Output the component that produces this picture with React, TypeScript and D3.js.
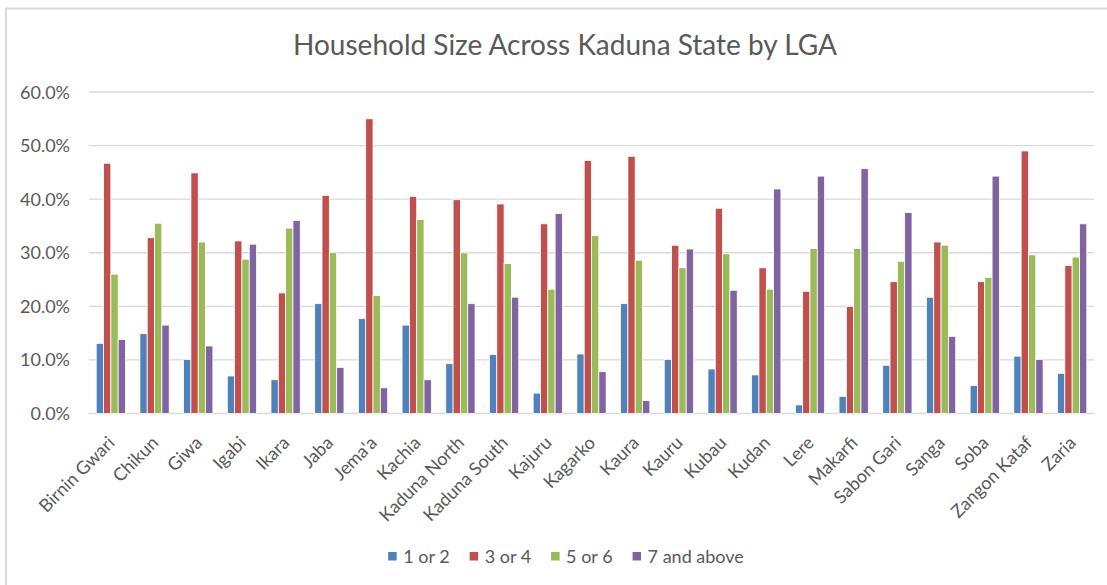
import { useEffect, useRef } from "react";
import * as d3 from "d3";

const lgas = [
  "Birnin Gwari", "Chikun", "Giwa", "Igabi", "Ikara", "Jaba", "Jema'a", "Kachia",
  "Kaduna North", "Kaduna South", "Kajuru", "Kagarko", "Kaura", "Kauru", "Kubau",
  "Kudan", "Lere", "Makarfi", "Sabon Gari", "Sanga", "Soba", "Zangon Kataf", "Zaria",
];

const seriesNames = ["1 or 2", "3 or 4", "5 or 6", "7 and above"];

const oneOrTwo = [13.1, 14.9, 10.1, 7.0, 6.3, 20.5, 17.7, 16.5, 9.3, 11.0, 3.8, 11.1, 20.5, 10.1, 8.3, 7.2, 1.6, 3.2, 9.0, 21.7, 5.2, 10.7, 7.5];
const threeOrFour = [46.7, 32.8, 44.9, 32.2, 22.5, 40.7, 55.0, 40.5, 39.9, 39.1, 35.4, 47.2, 48.0, 31.4, 38.3, 27.2, 22.8, 20.0, 24.6, 32.0, 24.6, 49.0, 27.6];
const fiveOrSix = [26.0, 35.5, 32.0, 28.8, 34.6, 30.0, 22.0, 36.2, 30.0, 28.0, 23.2, 33.2, 28.6, 27.2, 29.8, 23.2, 30.8, 30.8, 28.4, 31.4, 25.4, 29.6, 29.2];
const sevenPlus = [13.8, 16.5, 12.6, 31.6, 36.0, 8.6, 4.8, 6.3, 20.5, 21.7, 37.3, 7.8, 2.4, 30.7, 23.0, 41.9, 44.3, 45.7, 37.5, 14.4, 44.3, 10.1, 35.4];

const yTicks = [0, 10, 20, 30, 40, 50, 60];
const colors = ["#4f81bd", "#c0504d", "#9bbb59", "#8064a2"];

const W = 1107;
const H = 585;
const font = "Lato, 'Open Sans', sans-serif";
const textColor = "#595959";

const App = () => {
  const svgRef = useRef<SVGSVGElement>(null);

  useEffect(() => {
    const svg = d3.select(svgRef.current);
    svg.selectAll("*").remove();

    const series = [oneOrTwo, threeOrFour, fiveOrSix, sevenPlus];
    const left = 89;
    const right = 1094;
    const top = 92;
    const bottom = 413.5;

    // chart frame (only top and left edges fall inside the picture)
    svg.append("rect")
      .attr("x", 6).attr("y", 8.5)
      .attr("width", W + 20).attr("height", H + 20)
      .attr("fill", "#fff")
      .attr("stroke", "#d9d9d9").attr("stroke-width", 2);

    svg.append("text")
      .attr("x", 565).attr("y", 55)
      .attr("text-anchor", "middle")
      .attr("font-family", font).attr("font-size", 28)
      .attr("fill", textColor)
      .text("Household Size Across Kaduna State by LGA");

    const x = d3.scaleBand().domain(lgas).range([left, right]).paddingInner(0.33).paddingOuter(0.165);
    const xs = d3.scaleBand().domain(seriesNames).range([0, x.bandwidth()]);
    const y = d3.scaleLinear().domain([0, 60]).range([bottom, top]);

    // gridlines + y labels
    yTicks.forEach((t) => {
      svg.append("line")
        .attr("x1", left).attr("x2", right)
        .attr("y1", y(t)).attr("y2", y(t))
        .attr("stroke", "#d9d9d9").attr("stroke-width", 1.3);
      svg.append("text")
        .attr("x", 70).attr("y", y(t) + 6.5)
        .attr("text-anchor", "end")
        .attr("font-family", font).attr("font-size", 18)
        .attr("fill", textColor)
        .text(t.toFixed(1) + "%");
    });

    // bars
    series.forEach((vals, si) => {
      svg.append("g")
        .selectAll("rect")
        .data(vals)
        .join("rect")
        .attr("x", (_, i) => (x(lgas[i]) ?? 0) + (xs(seriesNames[si]) ?? 0))
        .attr("y", (d) => y(d))
        .attr("width", xs.bandwidth())
        .attr("height", (d) => y(0) - y(d))
        .attr("fill", colors[si])
        .attr("stroke", "#fff")
        .attr("stroke-width", 0.8);
    });

    // category labels
    lgas.forEach((name) => {
      const cx = (x(name) ?? 0) + x.bandwidth() / 2;
      svg.append("text")
        .attr("transform", `translate(${cx + 5},${444}) rotate(-45)`)
        .attr("text-anchor", "end")
        .attr("font-family", font).attr("font-size", 18)
        .attr("fill", textColor)
        .text(name);
    });

    // legend
    const legend = svg.append("g");
    let lx = 0;
    seriesNames.forEach((name, i) => {
      legend.append("rect")
        .attr("x", lx).attr("y", 552)
        .attr("width", 8.5).attr("height", 8.5)
        .attr("fill", colors[i]);
      const t = legend.append("text")
        .attr("x", lx + 15).attr("y", 563)
        .attr("font-family", font).attr("font-size", 18)
        .attr("fill", textColor)
        .text(name);
      const tw = (t.node() as SVGTextElement).getComputedTextLength();
      lx += 15 + tw + 20;
    });
    const total = lx - 20;
    legend.attr("transform", `translate(${566 - total / 2},0)`);
  }, []);

  return (
    <svg
      ref={svgRef}
      width={W}
      height={H}
      style={{ position: "absolute", left: 0, top: 0, display: "block", background: "#fff" }}
    />
  );
};

export default App;
